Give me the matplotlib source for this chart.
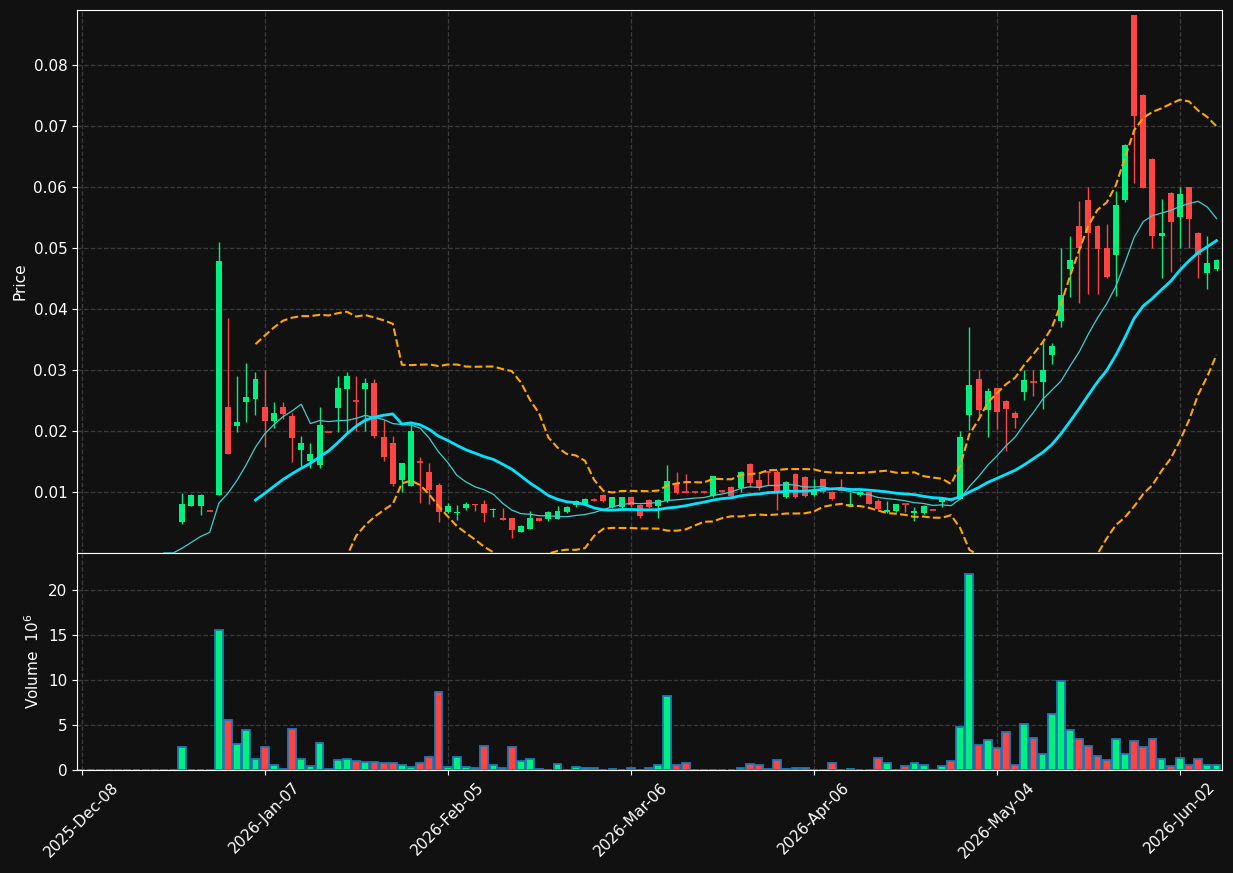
import numpy as np
import pandas as pd
import matplotlib
matplotlib.use("Agg")
import matplotlib.pyplot as plt

nan = np.nan
# index 0..124 ; early bars 0..10 have no candles
opens = [nan]*11 + [
 .0050,.0077,.0077,.0069,.0095,.0240,.0208,.0248,.0252,.0239,   # 11-20
 .0217,.0239,.0225,.0169,.0151,.0144,.0199,.0238,.0269,.0249,   # 21-30
 .0269,.0279,.0190,.0180,.0120,.0110,.0149,.0133,.0111,.0068,   # 31-40
 .0066,.0073,.0081,.0081,.0070,.0057,.0057,.0035,.0040,.0057,   # 41-50
 .0055,.0056,.0068,.0078,.0081,.0087,.0095,.0076,.0076,.0091,   # 51-60
 .0079,.0087,.0077,.0086,.0114,.0100,.0100,.0100,.0093,.0102,   # 61-70
 .0108,.0107,.0146,.0120,.0132,.0132,.0091,.0130,.0124,.0095,   # 71-80
 .0121,.0100,.0103,.0077,.0095,.0100,.0086,.0068,.0069,.0080,   # 81-90
 .0066,.0065,.0071,.0084,.0087,.0089,.0226,.0286,.0234,.0270,   # 91-100
 .0249,.0230,.0264,.0281,.0280,.0325,.0380,.0465,.0536,.0579,   # 101-110
 .0536,.0500,.0489,.0579,.0881,.0751,.0646,.0519,.0590,.0550,   # 111-120
 .0600,.0524,.0459,.0465]
closes = [nan]*11 + [
 .0080,.0095,.0095,.0069,.0479,.0162,.0215,.0255,.0285,.0217,
 .0229,.0228,.0189,.0180,.0162,.0210,.0199,.0270,.0290,.0249,
 .0279,.0191,.0158,.0113,.0147,.0200,.0149,.0103,.0068,.0077,
 .0068,.0081,.0078,.0065,.0072,.0054,.0038,.0044,.0058,.0053,
 .0067,.0069,.0075,.0085,.0088,.0087,.0085,.0091,.0091,.0078,
 .0060,.0076,.0087,.0118,.0099,.0100,.0100,.0100,.0126,.0102,
 .0093,.0133,.0114,.0107,.0132,.0100,.0116,.0091,.0094,.0102,
 .0100,.0089,.0103,.0080,.0100,.0080,.0072,.0071,.0080,.0080,
 .0069,.0077,.0071,.0089,.0087,.0190,.0275,.0234,.0266,.0231,
 .0236,.0221,.0284,.0281,.0300,.0340,.0423,.0481,.0500,.0524,
 .0499,.0453,.0570,.0668,.0716,.0599,.0519,.0524,.0543,.0589,
 .0547,.0489,.0476,.0481]
highs = [nan]*11 + [
 .0099,.0097,.0097,.0069,.0510,.0385,.0290,.0311,.0297,.0300,
 .0247,.0248,.0229,.0192,.0180,.0239,.0199,.0290,.0297,.0290,
 .0287,.0285,.0218,.0191,.0147,.0214,.0158,.0147,.0114,.0082,
 .0078,.0083,.0081,.0087,.0074,.0073,.0058,.0046,.0069,.0058,
 .0069,.0077,.0077,.0087,.0090,.0090,.0096,.0092,.0092,.0092,
 .0080,.0088,.0088,.0144,.0132,.0130,.0102,.0102,.0127,.0104,
 .0110,.0135,.0148,.0130,.0135,.0136,.0118,.0131,.0126,.0122,
 .0122,.0101,.0121,.0100,.0101,.0101,.0089,.0085,.0081,.0081,
 .0075,.0078,.0072,.0090,.0088,.0200,.0371,.0300,.0270,.0271,
 .0250,.0232,.0300,.0300,.0347,.0345,.0500,.0520,.0577,.0600,
 .0537,.0540,.0594,.0670,.0881,.0752,.0648,.0580,.0592,.0600,
 .0600,.0526,.0520,.0482]
lows = [nan]*11 + [
 .0048,.0077,.0062,.0069,.0095,.0162,.0199,.0215,.0226,.0174,
 .0205,.0220,.0149,.0143,.0139,.0139,.0199,.0198,.0199,.0200,
 .0200,.0189,.0151,.0110,.0100,.0110,.0082,.0081,.0050,.0065,
 .0054,.0071,.0069,.0050,.0059,.0054,.0024,.0034,.0039,.0052,
 .0053,.0055,.0066,.0076,.0078,.0086,.0083,.0074,.0074,.0076,
 .0058,.0073,.0058,.0084,.0097,.0099,.0099,.0099,.0092,.0100,
 .0090,.0100,.0108,.0104,.0111,.0071,.0090,.0090,.0092,.0094,
 .0098,.0087,.0101,.0077,.0094,.0080,.0070,.0065,.0068,.0068,
 .0052,.0064,.0070,.0075,.0086,.0089,.0201,.0224,.0190,.0204,
 .0168,.0205,.0250,.0257,.0236,.0310,.0371,.0419,.0410,.0425,
 .0425,.0450,.0422,.0575,.0606,.0599,.0500,.0451,.0460,.0500,
 .0500,.0451,.0433,.0462]
volumes = [0,0,.05,0,0,0,0,0,0,0,0,
 2.6,.05,.05,.05,15.5,5.6,2.85,4.4,1.26,2.6,
 .6,.15,4.5,1.26,.48,2.96,.15,1.15,1.26,1.04,
 .93,.93,.81,.81,.6,.3,.81,1.48,8.7,.37,
 1.48,.37,.26,2.7,.6,.26,2.5,.96,1.18,.15,
 .05,.7,.05,.37,.26,.26,.02,.15,.05,.26,
 .05,.26,.6,8.26,.6,.8,.05,0,0,0,
 0,.26,.7,.6,.15,1.07,.15,.26,.26,.05,
 .05,.8,.05,.15,.05,.05,1.37,.81,.05,.48,
 .81,.6,0,.48,.96,4.74,21.8,2.74,3.37,2.4,
 4.26,.6,5.15,3.6,1.8,6.26,9.93,4.48,3.48,2.7,
 1.6,1.15,3.48,1.8,3.26,2.52,3.48,1.26,.48,1.37,
 .6,1.26,.6,.6]
tick_pos = [0, 20, 40, 60, 80, 100, 120]
tick_labels = ["2025-Dec-08", "2026-Jan-07", "2026-Feb-05", "2026-Mar-06",
               "2026-Apr-06", "2026-May-04", "2026-Jun-02"]

o = np.array(opens); c = np.array(closes); h = np.array(highs); l = np.array(lows)
v = np.array(volumes)
n = len(c)
x = np.arange(n)
cs = pd.Series(c).fillna(0.0)
ma10 = cs.rolling(10).mean()
ma20 = cs.rolling(20).mean()
sd20 = cs.rolling(20).std(ddof=0)
up = ma20 + 2 * sd20
lo = ma20 - 2 * sd20

BG = "#111111"; GREEN = "#00f080"; RED = "#ff4444"
plt.rcParams['font.family'] = ['DejaVu Sans']
fig = plt.figure(figsize=(12.33, 8.73), dpi=100, facecolor=BG)
ax = fig.add_axes([77/1233, 1-553/873, 1145/1233, 543/873])
axv = fig.add_axes([77/1233, 1-770/873, 1145/1233, 217/873], sharex=ax)
for a in (ax, axv):
    a.set_facecolor(BG)
    for s in a.spines.values():
        s.set_color("white")
    a.tick_params(colors="white", labelsize=11)
    a.grid(True, color="#3a3a3a", linestyle="--", linewidth=0.9)
    a.set_axisbelow(True)

isup = c > o
cols = np.where(isup, GREEN, RED)
for i in range(n):
    if np.isnan(c[i]):
        continue
    ax.vlines(x[i], l[i], h[i], color=cols[i], linewidth=1, zorder=2)
    bot = min(o[i], c[i]); hh = abs(c[i] - o[i])
    if hh < 0.00008:
        ax.hlines(c[i], x[i]-0.35, x[i]+0.35, color=cols[i], linewidth=1.2, zorder=3)
    else:
        ax.bar(x[i], hh, bottom=bot, width=0.65, color=cols[i], zorder=3)

ax.plot(x, ma10, color="#3ecfcf", linewidth=0.9, zorder=4)
ax.plot(x, ma20, color="#00e5ff", linewidth=2, zorder=4)
ax.plot(x, up, color="#ffa500", linestyle="--", linewidth=1.5, zorder=4)
ax.plot(x, lo, color="#ffa500", linestyle="--", linewidth=1.5, zorder=4)
ax.set_ylim(0, 0.089)
ax.set_yticks([0.01, 0.02, 0.03, 0.04, 0.05, 0.06, 0.07, 0.08])
ax.set_ylabel("Price", color="white", fontsize=11)
ax.tick_params(axis="x", labelbottom=False, length=0)

vcols = np.where(isup, GREEN, RED)
axv.bar(x, v, width=0.85, color=vcols, edgecolor="#1f77b4", linewidth=1.3, zorder=3)
axv.set_ylim(0, 24.1)
axv.set_yticks([0, 5, 10, 15, 20])
axv.set_ylabel("Volume  $10^6$", color="white", fontsize=11)
axv.set_xlim(-0.5, 124.6)
axv.set_xticks(tick_pos)
axv.set_xticklabels(tick_labels, rotation=45, ha="center")
fig.savefig("out.png", dpi=100, facecolor=BG)
